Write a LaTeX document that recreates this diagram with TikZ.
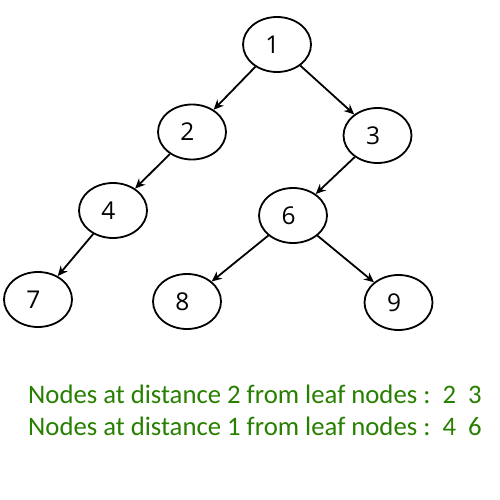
\documentclass[tikz,border=0pt]{standalone}
\usepackage{fontspec}
\setmainfont{Carlito}
\newfontfamily\digitfont{Open Sans}
\usetikzlibrary{shapes.geometric,arrows.meta}
\definecolor{txtgreen}{RGB}{40,128,0}
\newcommand{\dg}[1]{#1\hspace*{9pt}}
\begin{document}
\begin{tikzpicture}[x=1pt,y=-1pt,
  tnode/.style={ellipse,draw,line width=1.8pt,minimum width=68pt,minimum height=55pt,inner sep=0pt,font=\digitfont\fontsize{24.5}{26}\selectfont},
  edge/.style={line width=1.8pt,-{Stealth[length=10pt,width=9pt]}},
  info/.style={anchor=base west,inner sep=0pt,text=txtgreen,font=\fontsize{26.7}{28}\selectfont}]
\useasboundingbox (0,0) rectangle (500,500);
\fill[white] (0,0) rectangle (500,500);
\node[tnode] (n1) at (277,44.5) {\dg{1}};
\node[tnode] (n2) at (192,132) {\dg{2}};
\node[tnode] (n3) at (377.5,135.5) {\dg{3}};
\node[tnode] (n4) at (113,210.5) {\dg{4}};
\node[tnode] (n6) at (293,215.5) {\dg{6}};
\node[tnode] (n7) at (38,299.5) {\dg{7}};
\node[tnode] (n8) at (187,301.5) {\dg{8}};
\node[tnode] (n9) at (398.5,302.5) {\dg{9}};
\draw[edge] (n1) -- (n2);
\draw[edge] (n1) -- (n3);
\draw[edge] (n2) -- (n4);
\draw[edge] (n3) -- (n6);
\draw[edge] (n4) -- (n7);
\draw[edge] (n6) -- (n8);
\draw[edge] (n6) -- (n9);
\node[info] (t1) at (28,403) {Nodes at distance 2 from leaf nodes :\ \ 2\ \ 3};
\node[info] (t2) at (28,435) {Nodes at distance 1 from leaf nodes :\ \ 4\ \ 6};
\end{tikzpicture}
\end{document}
